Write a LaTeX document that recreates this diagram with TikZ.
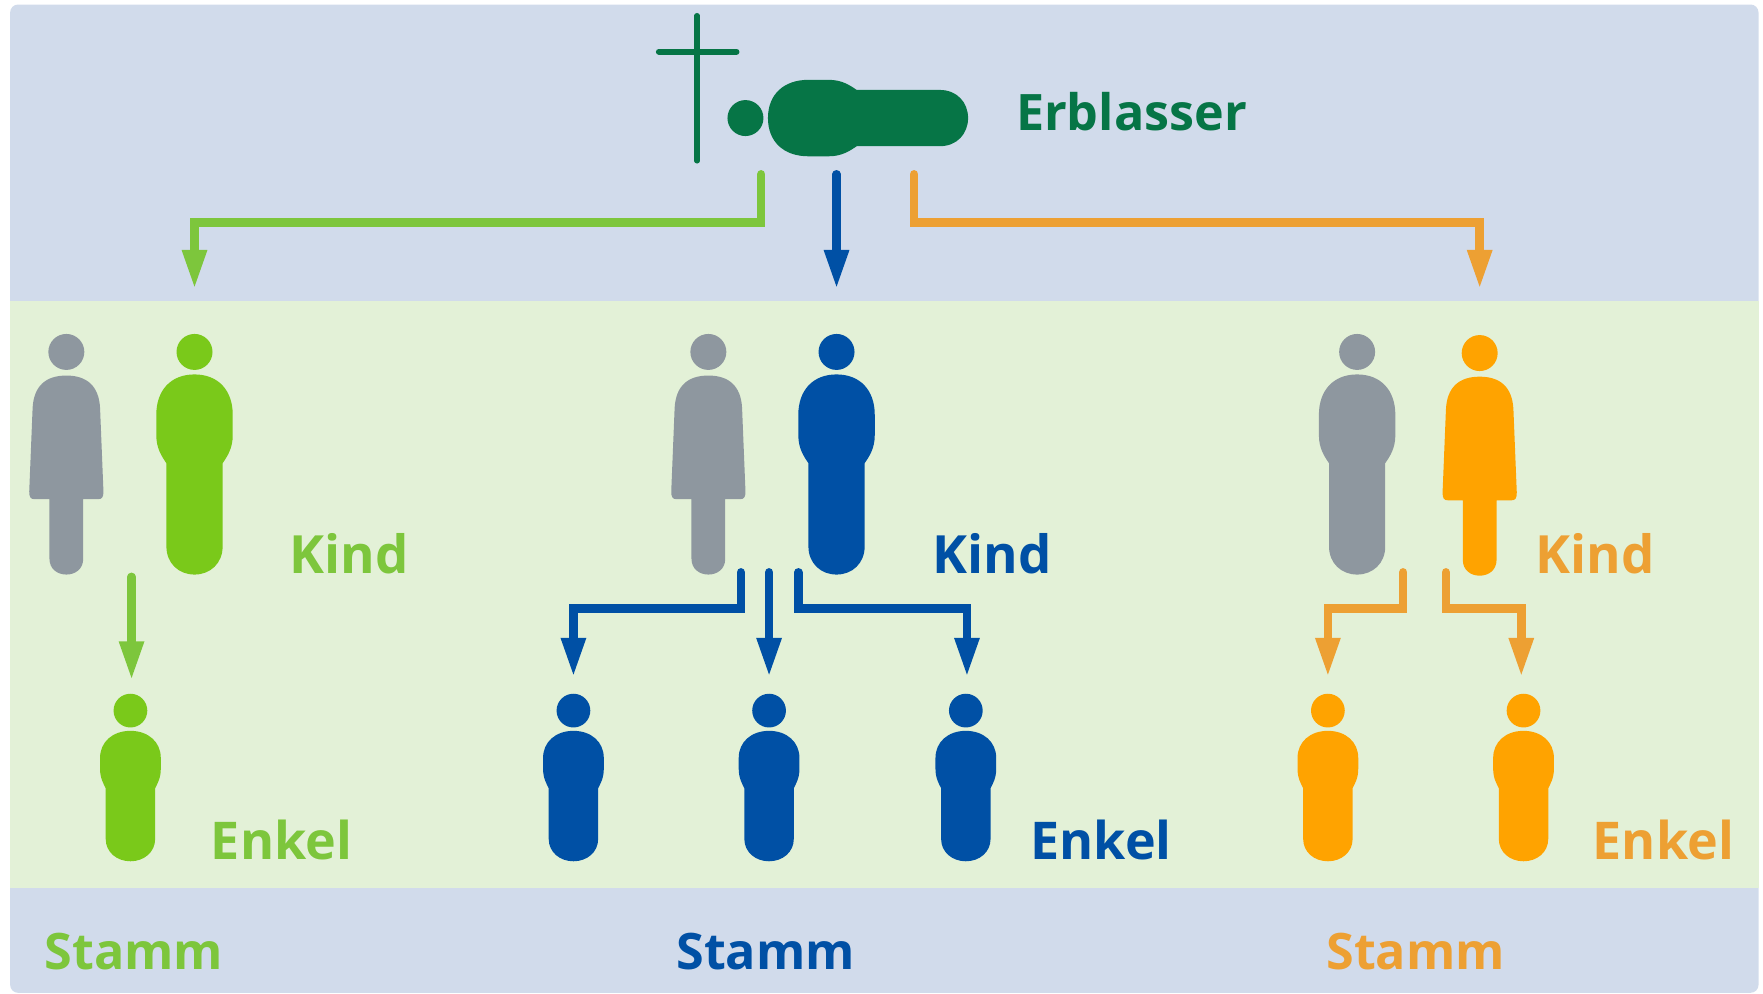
\documentclass[tikz,border=0pt]{standalone}
\usepackage{fontspec}
\setmainfont{Open Sans}
\usetikzlibrary{arrows.meta}
\definecolor{bandblue}{HTML}{D1DBEB}
\definecolor{bandgreen}{HTML}{E3F1D7}
\definecolor{deadgreen}{HTML}{067546}
\definecolor{stemblue}{HTML}{0050A5}
\definecolor{limefig}{HTML}{7AC91A}
\definecolor{limeline}{HTML}{7DC63C}
\definecolor{orangefig}{HTML}{FFA300}
\definecolor{orangeline}{HTML}{EDA033}
\definecolor{greyfig}{HTML}{8E979F}
\tikzset{
    label/.style={anchor=base west,inner sep=0pt,font=\bfseries\fontsize{14.3}{18}\selectfont},
    kindlabel/.style={label,font=\bfseries\fontsize{15}{18}\selectfont},
    enkellabel/.style={label,font=\bfseries\fontsize{14.8}{18}\selectfont},
    arrowline/.style={line width=0.85mm,line cap=round,-{Triangle[length=3.9mm,width=2.3mm]}},
    man/.pic={
        \fill[pic actions] (0,0) circle (16);
        \fill[pic actions] (0,20) .. controls (21,20) and (34,34) .. (34,56) -- (34,74)
            .. controls (34,86) and (29,93) .. (25,99) -- (25,173)
            .. controls (25,188) and (14,198) .. (0,198) .. controls (-14,198) and (-25,188) .. (-25,173)
            -- (-25,99) .. controls (-29,93) and (-34,86) .. (-34,74) -- (-34,56)
            .. controls (-34,34) and (-21,20) .. (0,20) -- cycle;
    },
    woman/.pic={
        \fill[pic actions] (0,0) circle (16);
        \fill[pic actions] (0,21) .. controls (18,21) and (29,30) .. (30,50) -- (33,124)
            .. controls (33,129) and (32,131) .. (28,131) -- (15,131) -- (15,184)
            .. controls (15,193) and (8,198) .. (0,198) .. controls (-8,198) and (-15,193) .. (-15,184)
            -- (-15,131) -- (-28,131) .. controls (-32,131) and (-33,129) .. (-33,124)
            -- (-30,50) .. controls (-29,30) and (-18,21) .. (0,21) -- cycle;
    },
    grandchild/.pic={
        \fill[pic actions] (0,0) circle (15);
        \fill[pic actions] (0,18) .. controls (16,18) and (27,28) .. (27,42) -- (27,52)
            .. controls (27,60) and (24,65) .. (22,69) -- (22,114)
            .. controls (22,126) and (12,134) .. (0,134) .. controls (-12,134) and (-22,126) .. (-22,114)
            -- (-22,69) .. controls (-24,65) and (-27,60) .. (-27,52) -- (-27,42)
            .. controls (-27,28) and (-16,18) .. (0,18) -- cycle;
    }
}

\begin{document}
\begin{tikzpicture}[x=0.11244mm,y=-0.11244mm]
    \useasboundingbox (0,0) rectangle (1568,884);
    \fill[bandblue,rounded corners=0.8mm] (9,4) rectangle (1564,883);
    \fill[bandgreen] (9,268) rectangle (1564,790);

    % deceased
    \draw[deadgreen,line width=0.55mm,line cap=round] (620,14) -- (620,143);
    \draw[deadgreen,line width=0.6mm,line cap=round] (586,46) -- (655,46);
    \pic[fill=deadgreen,rotate=90] at (663,105) {man};
    \node[label,text=deadgreen] (erblasser) at (903,116) {Erblasser};

    % persons
    \foreach \x in {59,630} {\pic[fill=greyfig] at (\x,313) {woman};}
    \pic[fill=greyfig] at (1207,313) {man};
    \pic[fill=limefig] at (173,313) {man};
    \pic[fill=stemblue] at (744,313) {man};
    \pic[fill=orangefig] at (1316,314) {woman};
    \pic[fill=limefig] at (116,632) {grandchild};
    \foreach \x in {510,684,859} {\pic[fill=stemblue] at (\x,632) {grandchild};}
    \foreach \x in {1181,1355} {\pic[fill=orangefig] at (\x,632) {grandchild};}

    % labels
    \node[kindlabel,text=limeline] (kindlime) at (257,510) {Kind};
    \node[kindlabel,text=stemblue] (kindblue) at (829,510) {Kind};
    \node[kindlabel,text=orangeline] (kindorange) at (1365,510) {Kind};
    \node[enkellabel,text=limeline] (enkellime) at (187,764) {Enkel};
    \node[enkellabel,text=stemblue] (enkelblue) at (916,764) {Enkel};
    \node[enkellabel,text=orangeline] (enkelorange) at (1416,764) {Enkel};
    \node[label,text=limeline] (stammlime) at (39,862) {Stamm};
    \node[label,text=stemblue] (stammblue) at (601,862) {Stamm};
    \node[label,text=orangeline] (stammorange) at (1179,862) {Stamm};

    % first generation
    \coordinate (limestart) at (677,155);
    \coordinate (limeend) at (173,257);
    \coordinate (bluestart) at (744,155);
    \coordinate (blueend) at (744,257);
    \coordinate (orangestart) at (813,155);
    \coordinate (orangeend) at (1316,257);
    \draw[arrowline,limeline] (limestart) -- ++(0,43) -| (limeend);
    \draw[arrowline,stemblue] (bluestart) -- (blueend);
    \draw[arrowline,orangeline] (orangestart) -- ++(0,43) -| (orangeend);

    % second generation
    \coordinate (kidlimestart) at (117,513);
    \coordinate (kidlimeend) at (117,605);
    \draw[arrowline,limeline] (kidlimestart) -- (kidlimeend);
    \coordinate (kidblueastart) at (659,509);
    \coordinate (kidblueaend) at (510,602);
    \coordinate (kidbluebstart) at (684,509);
    \coordinate (kidbluebend) at (684,602);
    \coordinate (kidbluecstart) at (710,509);
    \coordinate (kidbluecend) at (860,602);
    \draw[arrowline,stemblue] (kidblueastart) -- ++(0,32) -| (kidblueaend);
    \draw[arrowline,stemblue] (kidbluebstart) -- (kidbluebend);
    \draw[arrowline,stemblue] (kidbluecstart) -- ++(0,32) -| (kidbluecend);
    \coordinate (kidorangeastart) at (1248,509);
    \coordinate (kidorangeaend) at (1181,602);
    \coordinate (kidorangebstart) at (1286,509);
    \coordinate (kidorangebend) at (1353,602);
    \draw[arrowline,orangeline] (kidorangeastart) -- ++(0,32) -| (kidorangeaend);
    \draw[arrowline,orangeline] (kidorangebstart) -- ++(0,32) -| (kidorangebend);
\end{tikzpicture}
\end{document}
